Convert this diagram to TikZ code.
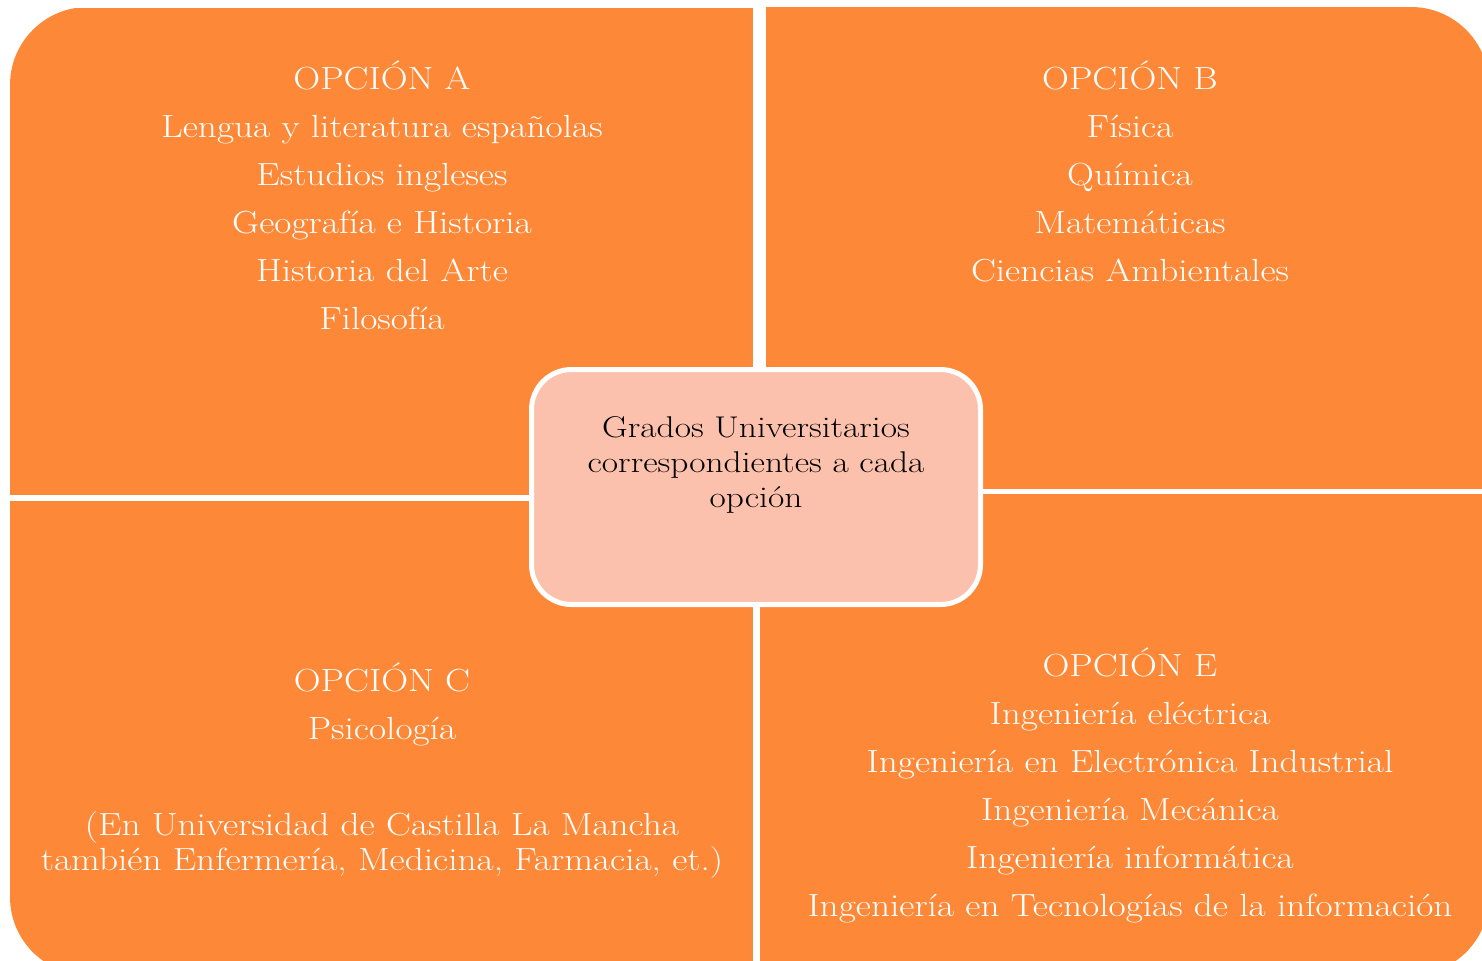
\documentclass[tikz,border=0pt]{standalone}
\usepackage{fontspec}
\usepackage{tikz}
\usetikzlibrary{positioning}

\newfontfamily\quadfont[FakeStretch=1.165]{lmroman17-regular.otf}
\newfontfamily\gradosfont[FakeStretch=1.18]{lmroman17-regular.otf}

\definecolor{quadorange}{RGB}{253,136,55}
\definecolor{gradosfill}{RGB}{252,193,172}

\tikzset{
	quadtext/.style={text=white, align=center, anchor=north, inner sep=0pt,
	                 font=\quadfont\fontsize{16}{24}\selectfont},
	gradosbox/.style={draw=white, line width=2.5pt, fill=gradosfill,
	                  rounded corners=20pt, minimum width=224.5pt, minimum height=117.5pt},
	gradostext/.style={text=black, align=center, inner sep=0pt,
	                   font=\gradosfont\fontsize{15}{17.5}\selectfont}
}

\begin{document}
\begin{tikzpicture}[x=0.5pt, y=-0.5pt]
	\useasboundingbox (0,0) rectangle (1482,960);

	% the four option panels
	\begin{scope}
		\clip[rounded corners=39pt] (10,7) rectangle (1489,975);
		\fill[quadorange] (10,8) rectangle (753,495);
		\fill[quadorange] (766,7) rectangle (1500,489);
		\fill[quadorange] (10,501) rectangle (753,990);
		\fill[quadorange] (760,494) rectangle (1500,990);
	\end{scope}

	\begin{scope}[every node/.style={quadtext}]
		\node (optA) at (382,60) {OPCIÓN A\\ Lengua y literatura españolas\\ Estudios ingleses\\
			Geografía e Historia\\ Historia del Arte\\ Filosofía};
		\node (optB) at (1130,60) {OPCIÓN B\\ Física\\ Química\\ Matemáticas\\ Ciencias Ambientales};
		\node (optC) at (382,662) {OPCIÓN C\\ Psicología\\[24pt]
			(En Universidad de Castilla La Mancha\\[-6.5pt] también Enfermería, Medicina, Farmacia, et.)};
		\node (optE) at (1130,647) {OPCIÓN E\\ Ingeniería eléctrica\\ Ingeniería en Electrónica Industrial\\
			Ingeniería Mecánica\\ Ingeniería informática\\ Ingeniería en Tecnologías de la información};
	\end{scope}

	% center box
	\node[gradosbox] (grados) at (756,487) {};
	\node[gradostext] (gradostxt) at (756,465) {Grados Universitarios\\ correspondientes a cada\\ opción};
\end{tikzpicture}
\end{document}
